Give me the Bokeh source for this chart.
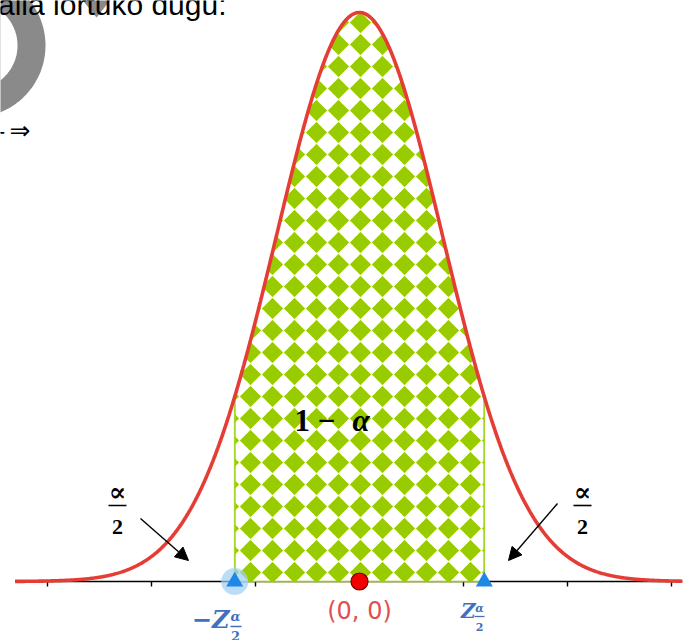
import numpy as np
from bokeh.plotting import figure
from bokeh.models import Range1d, Label, Arrow, NormalHead
from bokeh.embed import file_html
from bokeh.resources import INLINE

# Standard normal density and the two-sided critical value
MEAN = 0.0
STD = 1.0
Z_CRIT = 1.5
CURVE_LIMITS = [-4.14, 3.88]
TICK_VALUES = [-3.75, -2.5, -1.25, 1.25, 2.5, 3.75]
ORIGIN_X = [0.0]
ORIGIN_Y = [0.0]

# Texts
HEADER_TEXT = "alla lortuko dugu:"
PLUS_TEXT = "+"
IMPLIES_TEXT = "⇒"
CENTER_TEXT = ["1 −", "α"]
TAIL_TEXT = ["∝", "2"]
ORIGIN_TEXT = "(0, 0)"
Z_TEXT = ["−Z", "Z", "α", "2"]

# Canvas geometry: pixel position of (0, 0) and pixels per unit
W, H = 690, 640
X0_PX, Y0_PX = 359, 581
PX_PER_X = 83.2
PX_PER_Y = 1426.3

GREEN = "#99CC00"
RED = "#E53D36"
BLUE = "#1E88E5"
LABEL_BLUE = "#4170C0"
GREY = "#8A8A8A"

# diamond checker: spacing and half-diagonal, in pixels
CHECK_STEP = 22.0
CHECK_HALF = 10.6
CHECK_ANCHOR = (360.0, 22.0)


def sx(px):
    return (np.asarray(px, dtype=float) - X0_PX) / PX_PER_X


def sy(py):
    return (Y0_PX - np.asarray(py, dtype=float)) / PX_PER_Y


def pdf(x):
    return np.exp(-0.5 * ((x - MEAN) / STD) ** 2) / (STD * np.sqrt(2 * np.pi))


def curve_py(xpx):
    return Y0_PX - pdf(sx(xpx)) * PX_PER_Y


p = figure(width=W, height=H,
           x_range=Range1d(float(sx(0)), float(sx(W))),
           y_range=Range1d(float(sy(H)), float(sy(0))),
           output_backend="svg", toolbar_location=None, min_border=0,
           x_axis_location=None, y_axis_location=None,
           outline_line_color=None, background_fill_color="white",
           border_fill_color="white")
p.grid.visible = False

# grey circular icon in the corner (ring + arrow tip)
t = np.linspace(0, 2 * np.pi, 200)
ring_c = (-27.0, 45.0)
p.patch(x=sx(ring_c[0] + 72 * np.cos(t)), y=sy(ring_c[1] + 72 * np.sin(t)),
        fill_color=GREY, line_color=None)
p.patch(x=sx(ring_c[0] + 44 * np.cos(t)), y=sy(ring_c[1] + 44 * np.sin(t)),
        fill_color="white", line_color=None)
p.patch(x=sx([80, 112, 96]), y=sy([-3, -3, 17]), fill_color=GREY, line_color=None)

# horizontal axis with ticks
p.segment(x0=[CURVE_LIMITS[0]], y0=[0], x1=[CURVE_LIMITS[1]], y1=[0],
          line_color="black", line_width=1.6)
tick_len = 5 / PX_PER_Y
p.segment(x0=TICK_VALUES, y0=[0] * len(TICK_VALUES), x1=TICK_VALUES,
          y1=[-tick_len] * len(TICK_VALUES), line_color="black", line_width=1.4)

# central area 1 - alpha
xs = np.linspace(-Z_CRIT, Z_CRIT, 300)
area_x = np.concatenate([[-Z_CRIT], xs, [Z_CRIT]])
area_y = np.concatenate([[0], pdf(xs), [0]])
p.patch(x=area_x, y=area_y, fill_color="white", line_color=GREEN, line_width=1.5)

# diamond checker clipped to the area
xl_px = X0_PX - Z_CRIT * PX_PER_X
xr_px = X0_PX + Z_CRIT * PX_PER_X
dxs, dys = [], []
i_range = range(int(-(CHECK_ANCHOR[0] - xl_px) / CHECK_STEP) - 2,
                int((xr_px - CHECK_ANCHOR[0]) / CHECK_STEP) + 3)
j_range = range(-2, int((Y0_PX - CHECK_ANCHOR[1]) / CHECK_STEP) + 3)
for j in j_range:
    for i in i_range:
        cxp = CHECK_ANCHOR[0] + i * CHECK_STEP
        cyp = CHECK_ANCHOR[1] + j * CHECK_STEP
        xa = max(cxp - CHECK_HALF, xl_px)
        xb = min(cxp + CHECK_HALF, xr_px)
        if xa >= xb:
            continue
        xx = np.linspace(xa, xb, 16)
        if xa < cxp < xb:
            xx = np.sort(np.append(xx, cxp))
        span = CHECK_HALF - np.abs(xx - cxp)
        top = np.maximum(cyp - span, curve_py(xx))
        bot = np.minimum(cyp + span, Y0_PX)
        keep = top < bot - 0.05
        if not np.any(keep):
            continue
        # drop the columns where the diamond lies outside the area
        idx = np.where(keep)[0]
        lo, hi = max(idx[0] - 1, 0), min(idx[-1] + 1, len(xx) - 1)
        xx, top, bot = xx[lo:hi + 1], top[lo:hi + 1], bot[lo:hi + 1]
        top = np.minimum(top, bot)
        dxs.append(sx(np.concatenate([xx, xx[::-1]])))
        dys.append(sy(np.concatenate([top, bot[::-1]])))
p.patches(xs=dxs, ys=dys, fill_color=GREEN, line_color=None)

p.segment(x0=[-Z_CRIT, Z_CRIT], y0=[0, 0], x1=[-Z_CRIT, Z_CRIT],
          y1=[pdf(-Z_CRIT), pdf(Z_CRIT)], line_color="#A6D62A", line_width=1.5)

# density curve
cx = np.linspace(CURVE_LIMITS[0], CURVE_LIMITS[1], 800)
p.line(cx, pdf(cx), line_color=RED, line_width=3.6)

# critical points and origin
p.scatter(x=[-Z_CRIT], y=[0], size=27, fill_color="#9FCFF5", fill_alpha=0.7,
          line_color=None)
p.scatter(x=[-Z_CRIT, Z_CRIT], y=[0, 0], marker="triangle", size=17,
          fill_color=BLUE, line_color=None)
p.scatter(x=ORIGIN_X, y=ORIGIN_Y, size=17, fill_color="#F00000",
          line_color="#700000", line_width=1.2)

# arrows pointing at the tails
for (x1, y1, x2, y2) in [(140, 518, 188, 560), (557, 503, 508, 560)]:
    p.add_layout(Arrow(x_start=float(sx(x1)), y_start=float(sy(y1)),
                       x_end=float(sx(x2)), y_end=float(sy(y2)),
                       line_color="black", line_width=1.4,
                       end=NormalHead(size=13, fill_color="black", line_color="black",
                                      line_width=1)))


def label(text, px, py, size, color="black", font="Liberation Sans", style="normal",
          align="left"):
    p.add_layout(Label(x=float(sx(px)), y=float(sy(py)), text=text, text_font=font,
                       text_font_size=f"{size}px", text_color=color,
                       text_font_style=style, text_align=align,
                       text_baseline="middle"))


# header text over the icon
label(HEADER_TEXT, 226, 4, 30, align="right")
label(PLUS_TEXT, 5, 131, 26, align="right")
label(IMPLIES_TEXT, 9, 130, 25, font="DejaVu Sans")

# 1 - alpha
label(CENTER_TEXT[0], 294, 420, 31, font="Liberation Serif", style="bold")
label(CENTER_TEXT[1], 352, 420, 31, font="Liberation Serif", style="bold italic")

# alpha / 2 on both tails
for cxp in (117, 582):
    label(TAIL_TEXT[0], cxp, 491, 26, font="DejaVu Serif", style="bold",
          align="center")
    label(TAIL_TEXT[1], cxp, 526, 22, font="Liberation Serif", style="bold",
          align="center")
p.segment(x0=sx([108, 573]), y0=sy([505, 505]), x1=sx([126, 591]),
          y1=sy([505, 505]), line_color="black", line_width=1.6)

# origin label
label(ORIGIN_TEXT, 359, 610, 24, color="#E05050", font="DejaVu Sans", align="center")

# -Z alpha/2 and Z alpha/2
label(Z_TEXT[0], 229, 619, 24, color=LABEL_BLUE, font="DejaVu Serif",
      style="bold italic", align="right")
label(Z_TEXT[2], 235, 616, 13, color=LABEL_BLUE, font="DejaVu Serif",
      style="bold italic", align="center")
label(Z_TEXT[3], 235, 635, 13, color=LABEL_BLUE, font="DejaVu Serif",
      style="bold", align="center")
label(Z_TEXT[1], 475, 610, 20, color=LABEL_BLUE, font="DejaVu Serif",
      style="bold italic", align="right")
label(Z_TEXT[2], 479, 608, 11, color=LABEL_BLUE, font="DejaVu Serif",
      style="bold italic", align="center")
label(Z_TEXT[3], 479, 626, 11, color=LABEL_BLUE, font="DejaVu Serif",
      style="bold", align="center")
p.segment(x0=sx([230, 474]), y0=sy([626, 616]), x1=sx([241, 484]),
          y1=sy([626, 616]), line_color=LABEL_BLUE, line_width=1.3)

open("out.html", "w").write(file_html(p, INLINE))
